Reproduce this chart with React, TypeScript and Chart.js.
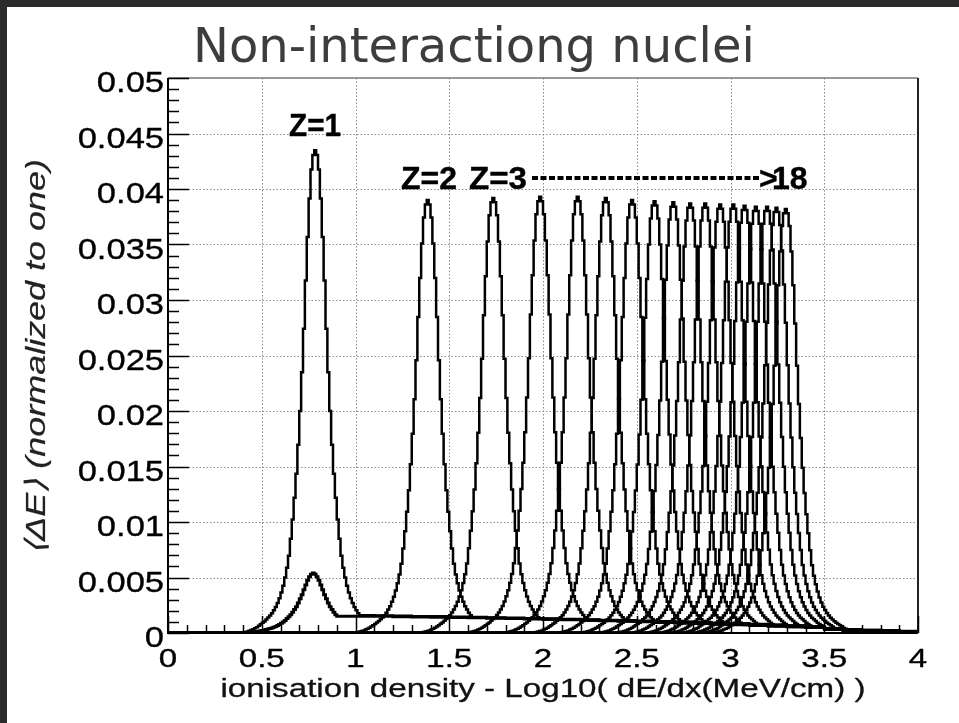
import React, { useEffect, useRef } from "react";
import { Chart, registerables } from "chart.js";

Chart.register(...registerables);

// ---------- data ----------
const X_MIN = 0;
const X_MAX = 4;
const BIN_WIDTH = 0.01;
const Y_MIN = 0;
const Y_MAX = 0.05;

const chargeLabels = [
  "Z=1", "Z=2", "Z=3", "Z=4", "Z=5", "Z=6", "Z=7", "Z=8", "Z=9",
  "Z=10", "Z=11", "Z=12", "Z=13", "Z=14", "Z=15", "Z=16", "Z=17", "Z=18",
];
// most probable Log10(dE/dx) of each nucleus (peak positions)
const peakCenters = [
  0.78, 1.38, 1.73, 1.98, 2.18, 2.34, 2.47, 2.59, 2.69,
  2.78, 2.86, 2.94, 3.01, 3.07, 3.13, 3.19, 3.24, 3.29,
];
// peak heights (normalized to one)
const peakHeights = [
  0.0435, 0.039, 0.0392, 0.0393, 0.0393, 0.0392, 0.039, 0.0389, 0.0388,
  0.0387, 0.0387, 0.0386, 0.0386, 0.0385, 0.0384, 0.0384, 0.0383, 0.0382,
];
// relative level of each nucleus' high-energy tail
const tailScales = [
  1.0, 0.97, 0.94, 0.92, 0.9, 0.88, 0.87, 0.86, 0.85,
  0.84, 0.83, 0.82, 0.81, 0.8, 0.8, 0.79, 0.79, 0.78,
];
// peak profile, relative height at |offset| = 0,1,2,... bins from the peak
const peakProfile = [
  1.0, 0.99, 0.96, 0.9, 0.82, 0.73, 0.63, 0.54, 0.46, 0.39,
  0.33, 0.28, 0.235, 0.195, 0.16, 0.135, 0.115, 0.098, 0.084, 0.072,
  0.062, 0.054, 0.047, 0.041, 0.036, 0.032, 0.028, 0.024, 0.021, 0.018,
  0.015, 0.012, 0.01, 0.008, 0.006, 0.0045, 0.0033, 0.0022, 0.0014, 0.0007,
  0,
];
// second (broad, low) Z=1 distribution
const broadLabel = "Z=1 (broad)";
const broadCenter = 0.77;
const broadHeight = 0.0054;
const broadTailScale = 0.95;
const broadProfile = [
  1.0, 0.98, 0.94, 0.88, 0.8, 0.72, 0.64, 0.57, 0.5, 0.44,
  0.39, 0.345, 0.305, 0.27, 0.24, 0.21, 0.185, 0.163, 0.143, 0.125,
  0.11, 0.097, 0.085, 0.075, 0.066, 0.058, 0.05, 0.043, 0.036, 0.03,
  0.024, 0.019, 0.014, 0.01, 0.007, 0.004, 0.002, 0,
];
// high-energy tail level, one value per 0.1 in Log10(dE/dx) from 0 to 4
const tailLevels = [
  0.0016, 0.0016, 0.0016, 0.0016, 0.0016, 0.0016, 0.0016, 0.0016, 0.0016, 0.0016,
  0.0016, 0.00158, 0.00155, 0.00152, 0.0015, 0.00147, 0.00144, 0.0014, 0.00137, 0.00133,
  0.0013, 0.00126, 0.00122, 0.00118, 0.00114, 0.0011, 0.00106, 0.00101, 0.00096, 0.00091,
  0.00086, 0.0008, 0.00074, 0.00067, 0.00058, 0.00042, 0.00032, 0.00026, 0.00021, 0.00016,
];
const TAIL_STEP = 0.1;

const xTickValues = [0, 0.5, 1, 1.5, 2, 2.5, 3, 3.5, 4];
const xTickLabels = ["0", "0.5", "1", "1.5", "2", "2.5", "3", "3.5", "4"];
const X_MINOR_STEP = 0.1;
const yTickValues = [0, 0.005, 0.01, 0.015, 0.02, 0.025, 0.03, 0.035, 0.04, 0.045, 0.05];
const yTickLabels = ["0", "0.005", "0.01", "0.015", "0.02", "0.025", "0.03", "0.035", "0.04", "0.045", "0.05"];
const Y_MINOR_STEP = 0.001;

const chartTitle = "Non-interactiong nuclei";
const xTitle = "ionisation density - Log10( dE/dx(MeV/cm) )";
const yTitle = "\u27E8\u0394E\u27E9 (normalized to one)";

// ---------- histogram construction ----------
function buildHistogram(center: number, height: number, profile: number[], tailScale: number) {
  const nBins = Math.round((X_MAX - X_MIN) / BIN_WIDTH);
  const peakBin = Math.floor((center - X_MIN) / BIN_WIDTH);
  const pts: { x: number; y: number }[] = [];
  const vals: number[] = [];
  for (let k = 0; k < nBins; k++) {
    const d = k - peakBin;
    const a = Math.abs(d);
    let v = a < profile.length ? height * profile[a] : 0;
    const xc = X_MIN + (k + 0.5) * BIN_WIDTH;
    if (d >= 0) {
      const ti = Math.min(tailLevels.length - 1, Math.floor((xc - X_MIN) / TAIL_STEP + 1e-9));
      v = Math.max(v, tailLevels[ti] * tailScale);
    }
    vals.push(v);
  }
  pts.push({ x: X_MIN, y: vals[0] });
  vals.forEach((v, k) => pts.push({ x: X_MIN + (k + 0.5) * BIN_WIDTH, y: v }));
  pts.push({ x: X_MAX, y: vals[vals.length - 1] });
  return pts;
}

// ---------- layout (canvas coords) ----------
const CANVAS_W = 952;
const CANVAS_H = 716;
const AREA_LEFT = 161;
const AREA_TOP = 71;
const AREA_RIGHT = 911;
const AREA_BOTTOM = 626;

function fitText(
  ctx: CanvasRenderingContext2D, text: string, x: number, y: number,
  font: string, width: number | null, align: CanvasTextAlign, color: string,
  sx = 1, weight = 0
) {
  ctx.save();
  ctx.font = font;
  ctx.fillStyle = color;
  ctx.strokeStyle = color;
  ctx.textAlign = align;
  ctx.textBaseline = "alphabetic";
  let s = sx;
  if (width) {
    const w = ctx.measureText(text).width;
    s = width / w;
  }
  ctx.translate(x, y);
  ctx.scale(s, 1);
  ctx.fillText(text, 0, 0);
  if (weight > 0) {
    ctx.lineWidth = weight;
    ctx.lineJoin = "round";
    ctx.strokeText(text, 0, 0);
  }
  ctx.restore();
}

const rootFramePlugin = {
  id: "rootFrame",
  beforeDatasetsDraw(chart: any) {
    const { ctx, chartArea: a, scales } = chart;
    const xs = scales.x;
    const ys = scales.y;
    ctx.save();
    ctx.strokeStyle = "#8a8a8a";
    ctx.lineWidth = 1;
    ctx.setLineDash([1.5, 2]);
    xTickValues.forEach((v) => {
      if (v <= X_MIN || v >= X_MAX) return;
      const px = Math.round(xs.getPixelForValue(v)) + 0.5;
      ctx.beginPath();
      ctx.moveTo(px, a.top);
      ctx.lineTo(px, a.bottom);
      ctx.stroke();
    });
    yTickValues.forEach((v) => {
      if (v <= Y_MIN || v >= Y_MAX) return;
      const py = Math.round(ys.getPixelForValue(v)) + 0.5;
      ctx.beginPath();
      ctx.moveTo(a.left, py);
      ctx.lineTo(a.right, py);
      ctx.stroke();
    });
    ctx.restore();
  },
  afterDatasetsDraw(chart: any) {
    const { ctx, chartArea: a, scales } = chart;
    const xs = scales.x;
    const ys = scales.y;
    ctx.save();
    // top & right frame
    ctx.strokeStyle = "#777";
    ctx.lineWidth = 1.5;
    ctx.beginPath();
    ctx.moveTo(a.left, a.top);
    ctx.lineTo(a.right, a.top);
    ctx.stroke();
    ctx.strokeStyle = "#222";
    ctx.lineWidth = 2;
    ctx.beginPath();
    ctx.moveTo(a.right, a.top);
    ctx.lineTo(a.right, a.bottom);
    ctx.stroke();
    // left & bottom axes
    ctx.strokeStyle = "#000";
    ctx.lineWidth = 2;
    ctx.beginPath();
    ctx.moveTo(a.left, a.top);
    ctx.lineTo(a.left, a.bottom);
    ctx.lineTo(a.right, a.bottom);
    ctx.stroke();
    // y ticks (inward)
    ctx.lineWidth = 1.5;
    const nY = Math.round((Y_MAX - Y_MIN) / Y_MINOR_STEP);
    for (let i = 0; i <= nY; i++) {
      const v = Y_MIN + i * Y_MINOR_STEP;
      const py = Math.round(ys.getPixelForValue(v)) + 0.5;
      const len = i % 5 === 0 ? 21 : 11;
      ctx.beginPath();
      ctx.moveTo(a.left, py);
      ctx.lineTo(a.left + len, py);
      ctx.stroke();
    }
    // x ticks (inward)
    const nX = Math.round((X_MAX - X_MIN) / X_MINOR_STEP);
    for (let i = 0; i <= nX; i++) {
      const v = X_MIN + i * X_MINOR_STEP;
      const px = Math.round(xs.getPixelForValue(v)) + 0.5;
      const len = i % 5 === 0 ? 17 : 8;
      ctx.beginPath();
      ctx.moveTo(px, a.bottom);
      ctx.lineTo(px, a.bottom - len);
      ctx.stroke();
    }
    // tick labels
    yTickValues.forEach((v, i) => {
      const py = ys.getPixelForValue(v);
      fitText(ctx, yTickLabels[i], a.left - 4, py + 14, "30px 'Liberation Sans', Arial, sans-serif", null, "right", "#000", 1.15, 0.35);
    });
    xTickValues.forEach((v, i) => {
      const px = xs.getPixelForValue(v);
      fitText(ctx, xTickLabels[i], px, a.bottom + 34, "25.5px 'Liberation Sans', Arial, sans-serif", null, "center", "#000", 1.3, 0.35);
    });
    // axis titles
    fitText(ctx, xTitle, (a.left + a.right) / 2, 690, "26px 'Liberation Sans', Arial, sans-serif", 645, "center", "#111", 1, 0.3);
    ctx.save();
    ctx.translate(38, 350);
    ctx.rotate(-Math.PI / 2);
    fitText(ctx, yTitle, 0, 0, "italic 28px 'Liberation Sans', Arial, sans-serif", 396, "center", "#222", 1, 0.2);
    ctx.restore();
    // chart title
    fitText(ctx, chartTitle, 186, 55, "48px 'DejaVu Sans', sans-serif", null, "left", "#3d3d3d");
    // annotations
    const bold = "bold 32px 'Liberation Sans', Arial, sans-serif";
    fitText(ctx, chargeLabels[0], 282, 129, bold, 52, "left", "#000", 1, 0.4);
    fitText(ctx, chargeLabels[1], 394, 182, bold, 56, "left", "#000", 1, 0.4);
    fitText(ctx, chargeLabels[2], 462, 182, bold, 58, "left", "#000", 1, 0.4);
    ctx.strokeStyle = "#000";
    ctx.lineWidth = 4;
    ctx.setLineDash([6, 2.5]);
    ctx.beginPath();
    ctx.moveTo(525, 171);
    ctx.lineTo(754, 171);
    ctx.stroke();
    ctx.setLineDash([]);
    fitText(ctx, ">", 752, 182, bold, null, "left", "#000", 1, 0.4);
    fitText(ctx, chargeLabels[17].replace("Z=", ""), 765, 182, bold, null, "left", "#000", 1, 0.4);
    ctx.restore();
  },
};

export default function App() {
  const ref = useRef<HTMLCanvasElement>(null);
  useEffect(() => {
    if (!ref.current) return;
    const datasets: any[] = peakCenters.map((c, i) => ({
      label: chargeLabels[i],
      data: buildHistogram(c, peakHeights[i], peakProfile, tailScales[i]),
      borderColor: "#000",
      borderWidth: 2.5,
      stepped: "middle",
      fill: false,
      pointRadius: 0,
    }));
    datasets.push({
      label: broadLabel,
      data: buildHistogram(broadCenter, broadHeight, broadProfile, broadTailScale),
      borderColor: "#000",
      borderWidth: 3,
      stepped: "middle",
      fill: false,
      pointRadius: 0,
    });
    const chart = new Chart(ref.current, {
      type: "line",
      data: { datasets },
      options: {
        responsive: false,
        animation: false,
        devicePixelRatio: 1,
        layout: {
          padding: { left: 0, top: AREA_TOP, right: CANVAS_W - AREA_RIGHT, bottom: 0 },
        },
        plugins: {
          legend: { display: false },
          tooltip: { enabled: false },
          title: { display: false },
        },
        elements: { point: { radius: 0 }, line: { tension: 0 } },
        scales: {
          x: {
            type: "linear",
            min: X_MIN,
            max: X_MAX,
            grid: { display: false },
            border: { display: false },
            ticks: { display: false },
            afterFit: (s: any) => {
              s.height = CANVAS_H - AREA_BOTTOM;
            },
          },
          y: {
            type: "linear",
            min: Y_MIN,
            max: Y_MAX,
            grid: { display: false },
            border: { display: false },
            ticks: { display: false },
            afterFit: (s: any) => {
              s.width = AREA_LEFT;
            },
          },
        },
      } as any,
      plugins: [rootFramePlugin],
    });
    return () => chart.destroy();
  }, []);
  return (
    <div
      style={{
        position: "fixed",
        left: 0,
        top: 0,
        width: 959,
        height: 723,
        background: "#2b2b2b",
      }}
    >
      <canvas
        ref={ref}
        width={CANVAS_W}
        height={CANVAS_H}
        style={{
          position: "absolute",
          left: 7,
          top: 7,
          width: CANVAS_W,
          height: CANVAS_H,
          background: "#fff",
        }}
      />
    </div>
  );
}
